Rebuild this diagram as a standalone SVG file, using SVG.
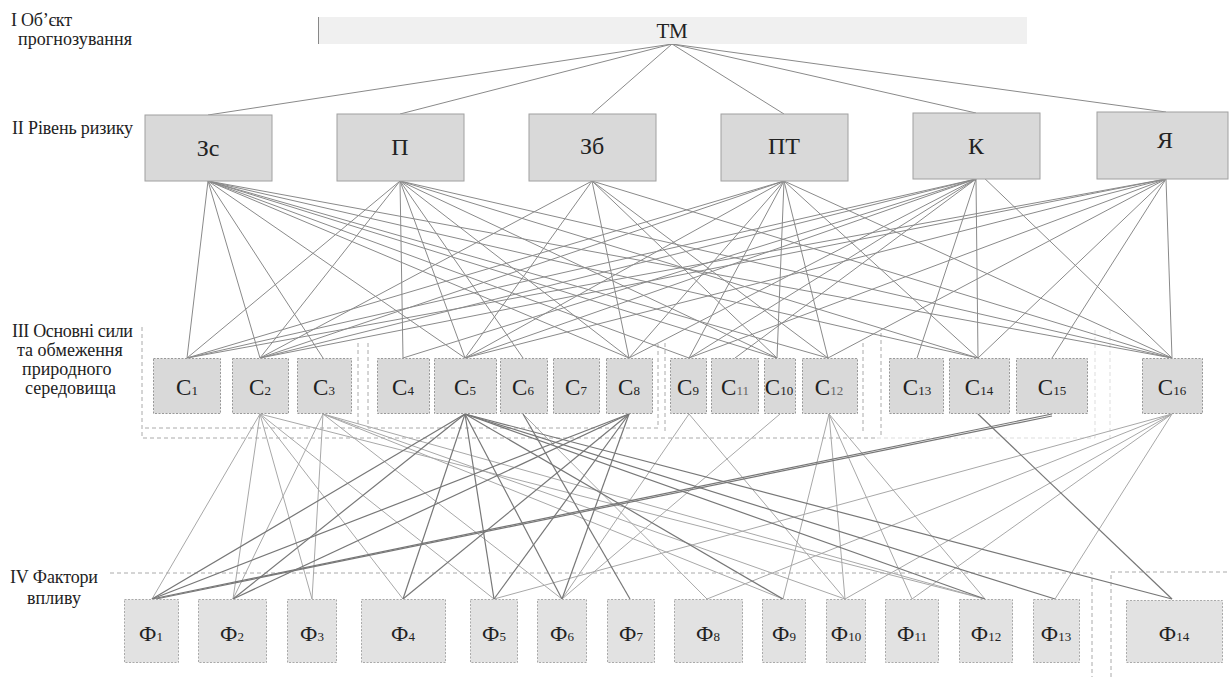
<svg xmlns="http://www.w3.org/2000/svg" width="1229" height="677" viewBox="0 0 1229 677">
<style>
text{font-family:"Liberation Serif","Times New Roman","DejaVu Serif",serif;fill:#222}
.lbl{font-size:18px}
.l2{font-size:24px;text-anchor:middle}
.c{font-size:23px;text-anchor:middle}
.f{font-size:22px;text-anchor:middle}
.s{font-size:13px}
.b2{fill:#d9d9d9;stroke:#a0a0a0;stroke-width:1}
.b3{fill:#d9d9d9;stroke:#999;stroke-width:1;stroke-dasharray:2 1.5}
.b4{fill:#e2e2e2;stroke:#aaa;stroke-width:1;stroke-dasharray:2 1.5}
.grp{fill:none;stroke:#aaa;stroke-width:1;stroke-dasharray:4 3}
.faint{fill:none;stroke:#ddd;stroke-width:1;stroke-dasharray:4 3}
.e1 line{stroke:#8a8a8a;stroke-width:1}
.e2 line{stroke:#a8a8a8;stroke-width:1}
.e3 line{stroke:#777;stroke-width:1.2}
</style>
<rect width="1229" height="677" fill="#fff"/>
<g id="labels">
<text class="lbl" x="11" y="26" textLength="61">I Об’єкт</text>
<text class="lbl" x="18" y="45" textLength="114">прогнозування</text>
<text class="lbl" x="12" y="134" textLength="121">II Рівень ризику</text>
<text class="lbl" x="12" y="337" textLength="121">III Основні сили</text>
<text class="lbl" x="17" y="356">та обмеження</text>
<text class="lbl" x="22" y="375">природного</text>
<text class="lbl" x="25" y="394">середовища</text>
<text class="lbl" x="10" y="583" textLength="88">IV Фактори</text>
<text class="lbl" x="27" y="604" textLength="54">впливу</text>
</g>
<g id="groups">
<path class="grp" d="M142,327 V438 H877"/>
<path class="grp" d="M145,428 H358 V343"/>
<path class="grp" d="M368,343 V428 H658 V343"/>
<path class="grp" d="M665,343 V434"/>
<path class="grp" d="M863,343 V432"/>
<path class="grp" d="M881,333 V438"/>
<path class="faint" d="M877,438 H1095 M1095,330 V438 M1110,330 V438"/>
<path class="grp" d="M110,573 H1092 V677"/>
<path class="grp" d="M1111,677 V572 H1229"/>
</g>
<g id="connectors">
<g class="e1">
<line x1="672" y1="44" x2="208" y2="115"/>
<line x1="672" y1="44" x2="400" y2="114"/>
<line x1="672" y1="44" x2="592" y2="114"/>
<line x1="672" y1="44" x2="784" y2="114"/>
<line x1="672" y1="44" x2="976" y2="113"/>
<line x1="672" y1="44" x2="1166" y2="112"/>
<line x1="208" y1="181" x2="187" y2="358"/>
<line x1="208" y1="181" x2="260" y2="358"/>
<line x1="208" y1="181" x2="323" y2="358"/>
<line x1="208" y1="181" x2="465" y2="358"/>
<line x1="208" y1="181" x2="629" y2="358"/>
<line x1="208" y1="181" x2="777" y2="358"/>
<line x1="208" y1="181" x2="828" y2="358"/>
<line x1="208" y1="181" x2="978" y2="358"/>
<line x1="208" y1="181" x2="1172" y2="358"/>
<line x1="208" y1="181" x2="689" y2="358"/>
<line x1="400" y1="181" x2="187" y2="358"/>
<line x1="400" y1="181" x2="260" y2="358"/>
<line x1="400" y1="181" x2="403" y2="358"/>
<line x1="400" y1="181" x2="465" y2="358"/>
<line x1="400" y1="181" x2="523" y2="358"/>
<line x1="400" y1="181" x2="629" y2="358"/>
<line x1="400" y1="181" x2="777" y2="358"/>
<line x1="400" y1="181" x2="978" y2="358"/>
<line x1="400" y1="181" x2="1172" y2="358"/>
<line x1="592" y1="181" x2="260" y2="358"/>
<line x1="592" y1="181" x2="465" y2="358"/>
<line x1="592" y1="181" x2="629" y2="358"/>
<line x1="592" y1="181" x2="777" y2="358"/>
<line x1="592" y1="181" x2="828" y2="358"/>
<line x1="592" y1="181" x2="1172" y2="358"/>
<line x1="784" y1="181" x2="187" y2="358"/>
<line x1="784" y1="181" x2="260" y2="358"/>
<line x1="784" y1="181" x2="465" y2="358"/>
<line x1="784" y1="181" x2="629" y2="358"/>
<line x1="784" y1="181" x2="689" y2="358"/>
<line x1="784" y1="181" x2="777" y2="358"/>
<line x1="784" y1="181" x2="828" y2="358"/>
<line x1="784" y1="181" x2="978" y2="358"/>
<line x1="784" y1="181" x2="1172" y2="358"/>
<line x1="976" y1="179" x2="187" y2="358"/>
<line x1="976" y1="179" x2="260" y2="358"/>
<line x1="976" y1="179" x2="403" y2="358"/>
<line x1="976" y1="179" x2="465" y2="358"/>
<line x1="976" y1="179" x2="629" y2="358"/>
<line x1="976" y1="179" x2="689" y2="358"/>
<line x1="976" y1="179" x2="735" y2="358"/>
<line x1="976" y1="179" x2="917" y2="358"/>
<line x1="976" y1="179" x2="978" y2="358"/>
<line x1="980" y1="174" x2="1172" y2="358"/>
<line x1="1166" y1="179" x2="187" y2="358"/>
<line x1="1166" y1="179" x2="260" y2="358"/>
<line x1="1166" y1="179" x2="465" y2="358"/>
<line x1="1166" y1="179" x2="689" y2="358"/>
<line x1="1166" y1="179" x2="828" y2="358"/>
<line x1="1166" y1="179" x2="978" y2="358"/>
<line x1="1166" y1="179" x2="1052" y2="358"/>
<line x1="1166" y1="179" x2="1172" y2="358"/>
</g>
<g class="e2">
<line x1="260" y1="414" x2="152" y2="599"/>
<line x1="260" y1="414" x2="233" y2="599"/>
<line x1="260" y1="414" x2="312" y2="599"/>
<line x1="260" y1="414" x2="403" y2="599"/>
<line x1="260" y1="414" x2="494" y2="599"/>
<line x1="260" y1="414" x2="985" y2="599"/>
<line x1="323" y1="414" x2="233" y2="599"/>
<line x1="323" y1="414" x2="312" y2="599"/>
<line x1="323" y1="414" x2="562" y2="599"/>
<line x1="323" y1="414" x2="783" y2="599"/>
<line x1="323" y1="414" x2="845" y2="599"/>
<line x1="323" y1="414" x2="985" y2="599"/>
<line x1="523" y1="414" x2="707" y2="599"/>
<line x1="689" y1="414" x2="562" y2="599"/>
<line x1="689" y1="414" x2="845" y2="599"/>
<line x1="780" y1="414" x2="562" y2="599"/>
<line x1="829" y1="414" x2="783" y2="599"/>
<line x1="829" y1="414" x2="845" y2="599"/>
<line x1="829" y1="414" x2="912" y2="599"/>
<line x1="829" y1="414" x2="985" y2="599"/>
<line x1="1172" y1="414" x2="494" y2="599"/>
<line x1="1172" y1="414" x2="707" y2="599"/>
<line x1="1172" y1="414" x2="845" y2="599"/>
<line x1="1172" y1="414" x2="912" y2="599"/>
<line x1="1172" y1="414" x2="1055" y2="599"/>
</g>
<g class="e3">
<line x1="465" y1="414" x2="152" y2="599"/>
<line x1="465" y1="414" x2="233" y2="599"/>
<line x1="465" y1="414" x2="403" y2="599"/>
<line x1="465" y1="414" x2="494" y2="599"/>
<line x1="465" y1="414" x2="562" y2="599"/>
<line x1="465" y1="414" x2="783" y2="599"/>
<line x1="465" y1="414" x2="985" y2="599"/>
<line x1="465" y1="414" x2="1055" y2="599"/>
<line x1="465" y1="414" x2="1172" y2="599"/>
<line x1="523" y1="414" x2="630" y2="599"/>
<line x1="629" y1="414" x2="152" y2="599"/>
<line x1="629" y1="414" x2="233" y2="599"/>
<line x1="629" y1="414" x2="403" y2="599"/>
<line x1="629" y1="414" x2="494" y2="599"/>
<line x1="629" y1="414" x2="562" y2="599"/>
<line x1="978" y1="414" x2="1172" y2="599"/>
<line x1="1052" y1="414" x2="152" y2="599"/>
<line x1="1052" y1="416" x2="156" y2="599"/>
</g>
</g>
<g id="TM"><rect x="318" y="17" width="709" height="27" fill="#f0f0f0"/><line x1="318.5" y1="17" x2="318.5" y2="44" stroke="#888"/><text class="l2" x="672" y="38" style="font-size:21px">ТМ</text></g>
<g id="Zs"><rect class="b2" x="145" y="115" width="127" height="66"/><text class="l2" x="208" y="156">Зс</text></g>
<g id="P"><rect class="b2" x="337" y="114" width="127" height="67"/><text class="l2" x="400" y="155">П</text></g>
<g id="Zb"><rect class="b2" x="529" y="114" width="127" height="67"/><text class="l2" x="592" y="154">Зб</text></g>
<g id="PT"><rect class="b2" x="721" y="114" width="127" height="67"/><text class="l2" x="784" y="154">ПТ</text></g>
<g id="K"><rect class="b2" x="913" y="113" width="127" height="66"/><text class="l2" x="976" y="154">К</text></g>
<g id="Ya"><rect class="b2" x="1097" y="112" width="131" height="67"/><text class="l2" x="1165" y="148">Я</text></g>
<g id="C1"><rect class="b3" x="153.5" y="358.5" width="67" height="55" stroke="#666"/><text class="c" x="187" y="395">С<tspan class="s">1</tspan></text></g>
<g id="C2"><rect class="b3" x="232.5" y="358.5" width="56" height="55"/><text class="c" x="260" y="395">С<tspan class="s">2</tspan></text></g>
<g id="C3"><rect class="b3" x="297.5" y="358.5" width="54" height="55"/><text class="c" x="324" y="395">С<tspan class="s">3</tspan></text></g>
<g id="C4"><rect class="b3" x="377.5" y="358.5" width="52" height="55"/><text class="c" x="403" y="395">С<tspan class="s">4</tspan></text></g>
<g id="C5"><rect class="b3" x="434.5" y="358.5" width="62" height="55"/><text class="c" x="465" y="395">С<tspan class="s">5</tspan></text></g>
<g id="C6"><rect class="b3" x="500.5" y="358.5" width="47" height="55"/><text class="c" x="523" y="395">С<tspan class="s">6</tspan></text></g>
<g id="C7"><rect class="b3" x="553.5" y="358.5" width="46" height="55"/><text class="c" x="576" y="395">С<tspan class="s">7</tspan></text></g>
<g id="C8"><rect class="b3" x="606.5" y="358.5" width="46" height="55"/><text class="c" x="629" y="395">С<tspan class="s">8</tspan></text></g>
<g id="C9"><rect class="b3" x="670.5" y="358.5" width="36" height="55"/><text class="c" x="688" y="395">С<tspan class="s">9</tspan></text></g>
<g id="C11"><rect class="b3" x="711.5" y="358.5" width="47" height="55" fill="#e0e0e0"/><text class="c" x="735" y="395">С<tspan class="s" fill="#666">11</tspan></text></g>
<g id="C10"><rect class="b3" x="764.5" y="358.5" width="31" height="55"/><text class="c" x="779" y="395">С<tspan class="s">10</tspan></text></g>
<g id="C12"><rect class="b3" x="802.5" y="358.5" width="55" height="55" fill="#dedede"/><text class="c" x="829" y="395">С<tspan class="s" fill="#666">12</tspan></text></g>
<g id="C13"><rect class="b3" x="889.5" y="358.5" width="54" height="55" stroke="#ccc"/><text class="c" x="917" y="395">С<tspan class="s">13</tspan></text></g>
<g id="C14"><rect class="b3" x="949.5" y="358.5" width="60" height="55"/><text class="c" x="979" y="395">С<tspan class="s">14</tspan></text></g>
<g id="C15"><rect class="b3" x="1016.5" y="358.5" width="71" height="55"/><text class="c" x="1052" y="395">С<tspan class="s">15</tspan></text></g>
<g id="C16"><rect class="b3" x="1142.5" y="358.5" width="60" height="55" fill="#e0e0e0"/><text class="c" x="1172" y="395">С<tspan class="s">16</tspan></text></g>
<g id="F1"><rect class="b4" x="124.5" y="599.5" width="54" height="63"/><text class="f" x="151" y="641">Ф<tspan class="s">1</tspan></text></g>
<g id="F2"><rect class="b4" x="198.5" y="599.5" width="68" height="63"/><text class="f" x="232" y="641">Ф<tspan class="s">2</tspan></text></g>
<g id="F3"><rect class="b4" x="287.5" y="599.5" width="49" height="63"/><text class="f" x="312" y="641">Ф<tspan class="s">3</tspan></text></g>
<g id="F4"><rect class="b4" x="361.5" y="599.5" width="84" height="63"/><text class="f" x="403" y="641">Ф<tspan class="s">4</tspan></text></g>
<g id="F5"><rect class="b4" x="470.5" y="599.5" width="47" height="63"/><text class="f" x="494" y="641">Ф<tspan class="s">5</tspan></text></g>
<g id="F6"><rect class="b4" x="537.5" y="599.5" width="49" height="63"/><text class="f" x="562" y="641">Ф<tspan class="s">6</tspan></text></g>
<g id="F7"><rect class="b4" x="607.5" y="599.5" width="47" height="63"/><text class="f" x="631" y="641">Ф<tspan class="s">7</tspan></text></g>
<g id="F8"><rect class="b4" x="674.5" y="599.5" width="68" height="63"/><text class="f" x="708" y="641">Ф<tspan class="s">8</tspan></text></g>
<g id="F9"><rect class="b4" x="762.5" y="599.5" width="43" height="63"/><text class="f" x="784" y="641">Ф<tspan class="s">9</tspan></text></g>
<g id="F10"><rect class="b4" x="826.5" y="599.5" width="39" height="63"/><text class="f" x="846" y="641">Ф<tspan class="s">10</tspan></text></g>
<g id="F11"><rect class="b4" x="885.5" y="599.5" width="53" height="63"/><text class="f" x="912" y="641">Ф<tspan class="s">11</tspan></text></g>
<g id="F12"><rect class="b4" x="959.5" y="599.5" width="53" height="63"/><text class="f" x="986" y="641">Ф<tspan class="s">12</tspan></text></g>
<g id="F13"><rect class="b4" x="1033.5" y="599.5" width="46" height="63"/><text class="f" x="1056" y="641">Ф<tspan class="s">13</tspan></text></g>
<g id="F14"><rect class="b4" x="1126.5" y="600.5" width="96" height="62" fill="#e6e6e6"/><text class="f" x="1174" y="641">Ф<tspan class="s">14</tspan></text></g>
</svg>
